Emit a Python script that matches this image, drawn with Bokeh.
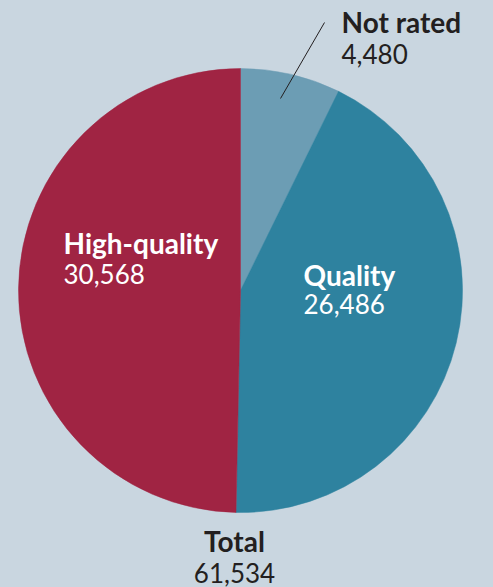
import math
from bokeh.plotting import figure
from bokeh.models import Range1d
from bokeh.core.properties import value
from bokeh.embed import file_html
from bokeh.resources import INLINE

# Data
categories = ["Not rated", "Quality", "High-quality"]
counts = [4480, 26486, 30568]
colors = ["#6c9db4", "#2e829f", "#a02443"]
total_label = "Total"

BG = "#c9d6e0"
W, H = 493, 587
CX, CY = 240, 290  # pie centre in image pixels
R = 222
SHIFT = 10  # baseline correction

def dx(px):
    return px - CX

def dy(py):
    return CY - (py - SHIFT)

p = figure(width=W, height=H, output_backend="svg", toolbar_location=None,
           x_range=Range1d(-CX, W - CX), y_range=Range1d(CY - H, CY),
           min_border=0, background_fill_color=BG, border_fill_color=BG)
p.axis.visible = False
p.grid.visible = False
p.outline_line_color = None

total = sum(counts)
starts, ends = [], []
acc = 0
for c in counts:
    a0 = math.pi / 2 - 2 * math.pi * acc / total
    acc += c
    a1 = math.pi / 2 - 2 * math.pi * acc / total
    starts.append(a1)
    ends.append(a0)

p.wedge(x=[0] * 3, y=[0] * 3, radius=R, start_angle=starts, end_angle=ends,
        fill_color=colors, line_color=colors, line_width=0.5)

# leader line for Not rated
p.line(x=[dx(324), dx(280)], y=[CY - 22, CY - 98], line_color="#231f20", line_width=1)

font = value("Lato")
BOLD = "28px"
NUM = "26px"
def fmt(n):
    return f"{n:,}"

# Not rated
p.text(x=[dx(341)], y=[dy(31)], text=[categories[0]], text_font=font,
       text_font_style="bold", text_font_size=BOLD, text_color="#231f20",
       text_baseline="alphabetic", text_align="left")
p.text(x=[dx(341)], y=[dy(63)], text=[fmt(counts[0])], text_font=font,
       text_font_size=NUM, text_color="#231f20",
       text_baseline="alphabetic", text_align="left")
# High-quality
p.text(x=[dx(63)], y=[dy(252)], text=[categories[2]], text_font=font,
       text_font_style="bold", text_font_size=BOLD, text_color="white",
       text_baseline="alphabetic", text_align="left")
p.text(x=[dx(63)], y=[dy(283)], text=[fmt(counts[2])], text_font=font,
       text_font_size=NUM, text_color="white",
       text_baseline="alphabetic", text_align="left")
# Quality
p.text(x=[dx(303)], y=[dy(284)], text=[categories[1]], text_font=font,
       text_font_style="bold", text_font_size=BOLD, text_color="white",
       text_baseline="alphabetic", text_align="left")
p.text(x=[dx(303)], y=[dy(313)], text=[fmt(counts[1])], text_font=font,
       text_font_size=NUM, text_color="white",
       text_baseline="alphabetic", text_align="left")
# Total
p.text(x=[dx(234)], y=[dy(550)], text=[total_label], text_font=font,
       text_font_style="bold", text_font_size=BOLD, text_color="#231f20",
       text_baseline="alphabetic", text_align="center")
p.text(x=[dx(234)], y=[dy(582)], text=[fmt(total)], text_font=font,
       text_font_size=NUM, text_color="#231f20",
       text_baseline="alphabetic", text_align="center")

html = file_html(p, INLINE)
html = html.replace("<head>", "<head><style>html,body{margin:0;padding:0;overflow:hidden;background:%s}</style>" % BG, 1)
open("out.html", "w").write(html)
